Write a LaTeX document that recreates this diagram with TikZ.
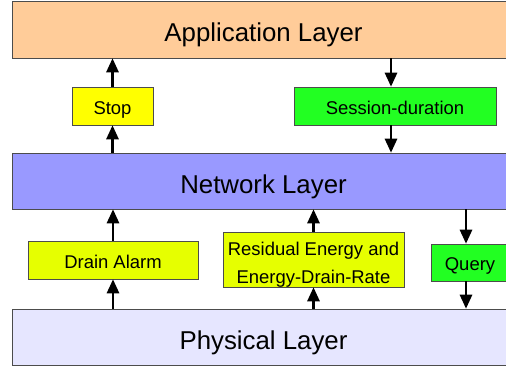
\documentclass[tikz,border=0pt]{standalone}
\usepackage{fontspec}
\setmainfont{Liberation Sans}
\usetikzlibrary{arrows.meta}
\definecolor{appli}{HTML}{FFCC99}
\definecolor{reseau}{HTML}{9999FF}
\definecolor{physique}{HTML}{E6E6FF}
\definecolor{jaune}{HTML}{FFFF00}
\definecolor{citron}{HTML}{E6FF00}
\definecolor{vert}{HTML}{22FF22}
\begin{document}
\begin{tikzpicture}[x=0.02cm, y=-0.02cm,
                  couche/.style={draw=black!70, minimum width=10.06cm, minimum height=1.12cm,
                                 inner sep=0, text height=14pt, text depth=0pt,
                                 font=\fontsize{14.7}{17}\selectfont},
                  msg/.style={draw=black!70, inner sep=0, align=center,
                              font=\fontsize{10.5}{16}\selectfont},
                  court/.style={text height=9.5pt, text depth=0pt},
                  fleche/.style={-{Triangle[width=7pt,length=8pt]}, line width=1.2pt}]
\useasboundingbox (0,0) rectangle (506,369);
\clip (0,0) rectangle (506,369);
% les trois couches
\node[couche,fill=appli,minimum height=1.14cm] (app) at (263.5,29.5) {Application Layer};
\node[couche,fill=reseau] (net) at (263.5,181) {Network Layer};
\node[couche,fill=physique] (phys) at (263.5,337) {Physical Layer};
% les messages
\node[msg,court,fill=jaune,minimum width=1.62cm,minimum height=0.76cm] (stop) at (112.5,106) {Stop};
\node[msg,court,fill=vert,minimum width=4.04cm,minimum height=0.76cm] (sess) at (395,106) {Session-duration};
\node[msg,court,fill=citron,minimum width=3.4cm,minimum height=0.76cm] (drain) at (113,260) {Drain Alarm};
\node[msg,fill=citron,minimum width=3.62cm,minimum height=1.1cm,text height=27.4pt,text depth=0pt]
     (resid) at (313.5,259.5) {Residual Energy and\\Energy-Drain-Rate};
\node[msg,court,fill=vert,minimum width=1.56cm,minimum height=0.74cm] (query) at (470,262.5) {Query};
% vers le haut
\foreach \m/\bas/\haut in {stop/net/app, drain/phys/net, resid/phys/net}
  {\draw[fleche] (\m.south |- \bas.north) -- (\m.south);
   \draw[fleche] (\m.north) -- (\m.north |- \haut.south);};
% vers le bas
\foreach \m/\haut/\bas in {sess/app/net, query/net/phys}
  {\draw[fleche] ([xshift=-0.08cm]\m.north |- \haut.south) -- ([xshift=-0.08cm]\m.north);
   \draw[fleche] ([xshift=-0.08cm]\m.south) -- ([xshift=-0.08cm]\m.south |- \bas.north);};
\end{tikzpicture}
\end{document}
